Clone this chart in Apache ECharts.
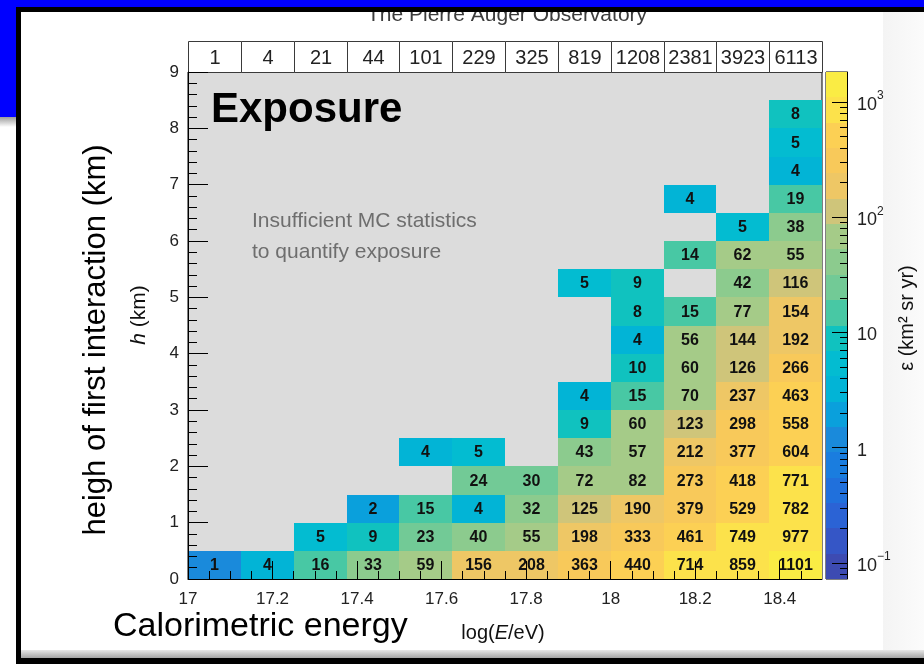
<!DOCTYPE html>
<html>
<head>
<meta charset="utf-8">
<script src="https://cdn.jsdelivr.net/npm/echarts@6/dist/echarts.min.js"></script>
<style>
  html, body { margin: 0; padding: 0; background: #ffffff; }
  #chart { width: 924px; height: 664px; }
</style>
</head>
<body>
<div id="chart"></div>
<script>
// Lower edges of the log10(E/eV) bins (width 0.125)
const energyBins = [17.0, 17.125, 17.25, 17.375, 17.5, 17.625, 17.75, 17.875, 18.0, 18.125, 18.25, 18.375];
const energyBinWidth = 0.125;
// Height rows are 0.5 km tall, starting at 0 km
const heightRowWidth = 0.5;

// Exposure (km^2 sr yr) per energy bin, listed from the lowest height row upwards (null = no entry)
const exposureBin00 = [1];
const exposureBin01 = [4];
const exposureBin02 = [16, 5];
const exposureBin03 = [33, 9, 2];
const exposureBin04 = [59, 23, 15, null, 4];
const exposureBin05 = [156, 40, 4, 24, 5];
const exposureBin06 = [208, 55, 32, 30];
const exposureBin07 = [363, 198, 125, 72, 43, 9, 4, null, null, null, 5];
const exposureBin08 = [440, 333, 190, 82, 57, 60, 15, 10, 4, 8, 9];
const exposureBin09 = [714, 461, 379, 273, 212, 123, 70, 60, 56, 15, null, 14, null, 4];
const exposureBin10 = [859, 749, 529, 418, 377, 298, 237, 126, 144, 77, 42, 62, 5];
const exposureBin11 = [1101, 977, 782, 771, 604, 558, 463, 266, 192, 154, 116, 55, 38, 19, 4, 5, 8];

// Totals shown in the header row above each energy bin
const binTotals = [1, 4, 21, 44, 101, 229, 325, 819, 1208, 2381, 3923, 6113];

// Tick values and labels
const xTickValues = [17, 17.2, 17.4, 17.6, 17.8, 18, 18.2, 18.4];
const xTickLabels = ['17', '17.2', '17.4', '17.6', '17.8', '18', '18.2', '18.4'];
const yTickValues = [0, 1, 2, 3, 4, 5, 6, 7, 8, 9];
const yTickLabels = ['0', '1', '2', '3', '4', '5', '6', '7', '8', '9'];
const zTickValues = [0.1, 1, 10, 100, 1000];
const zTickLabels = ['{b|10}{s|\u22121}', '{b|1}', '{b|10}', '{b|10}{s|2}', '{b|10}{s|3}'];

// Colour scale (logarithmic, 20 contour bands)
const zMin = 0.0726;
const zMax = 1820;
const bandColors = [
  '#3d4bb2', '#3556c6', '#2b63d5', '#2070dc', '#1a7ddf',
  '#1a8adb', '#0aa0dc', '#02b4d6', '#03bcd1', '#10c2bf',
  '#48c8a4', '#72ca96', '#8ccb8e', '#a5cb88', '#cfc57a',
  '#eec765', '#f8c95a', '#fcd054', '#fce24b', '#faec44'
];

const exposureColumns = [exposureBin00, exposureBin01, exposureBin02, exposureBin03, exposureBin04, exposureBin05,
  exposureBin06, exposureBin07, exposureBin08, exposureBin09, exposureBin10, exposureBin11];

function bandIndex(v) {
  const t = (Math.log10(v) - Math.log10(zMin)) / (Math.log10(zMax) - Math.log10(zMin));
  return Math.max(0, Math.min(bandColors.length - 1, Math.floor(t * bandColors.length)));
}

// Cells as [bin low edge, row low edge, exposure]
const cellData = [];
exposureColumns.forEach((col, i) => {
  col.forEach((v, j) => {
    if (v !== null) cellData.push([energyBins[i], j * heightRowWidth, v]);
  });
});

// Minor tick positions
const xMinorTicks = [];
for (let k = 1; k < 30; k++) { if (k % 4 !== 0) xMinorTicks.push(+(17 + k * 0.05).toFixed(3)); }
const yMinorTicks = [];
for (let k = 1; k < 45; k++) { if (k % 5 !== 0) yMinorTicks.push(+(k * 0.2).toFixed(3)); }
const zMinorTicks = [0.08, 0.09];
[0.1, 1, 10, 100].forEach(d => { for (let m = 2; m <= 9; m++) zMinorTicks.push(+(d * m).toPrecision(3)); });

const axisFont = '"Liberation Sans", Arial, sans-serif';
const cellFont = 'bold 16px "Liberation Sans Narrow", "Liberation Sans", Arial, sans-serif';

const chart = echarts.init(document.getElementById('chart'), null, { renderer: 'canvas' });

function renderCell(params, api) {
  const x0 = api.value(0), y0 = api.value(1), v = api.value(2);
  const p0 = api.coord([x0, y0]);
  const p1 = api.coord([x0 + energyBinWidth, y0 + heightRowWidth]);
  const left = Math.round(p0[0]), right = Math.round(p1[0]);
  const top = Math.round(p1[1]), bottom = Math.round(p0[1]);
  return {
    type: 'group',
    children: [
      { type: 'rect', shape: { x: left, y: top, width: right - left, height: bottom - top },
        style: { fill: bandColors[bandIndex(v)] } },
      { type: 'text', x: (left + right) / 2, y: (top + bottom) / 2 + 1,
        style: { text: String(v), font: cellFont, fill: '#111', align: 'center', verticalAlign: 'middle' } }
    ]
  };
}

function renderHeader(params, api) {
  const x0 = api.value(0), total = api.value(1);
  const pa = api.coord([x0, 9]);
  const pb = api.coord([x0 + energyBinWidth, 9]);
  const left = Math.round(pa[0]) + 0.5, right = Math.round(pb[0]) + 0.5;
  const bottom = Math.round(pa[1]) + 0.5, top = bottom - 31;
  return {
    type: 'group',
    children: [
      { type: 'rect', shape: { x: left, y: top, width: right - left, height: bottom - top },
        style: { fill: '#ffffff', stroke: '#3a3a3a', lineWidth: 1 } },
      { type: 'text', x: (left + right) / 2, y: (top + bottom) / 2 + 1,
        style: { text: String(total), font: '20px "Liberation Sans Narrow", "Liberation Sans", Arial, sans-serif',
          fill: '#222', align: 'center', verticalAlign: 'middle' } }
    ]
  };
}

function renderBand(params, api) {
  const k = api.value(1);
  const n = bandColors.length;
  const lo = zMin * Math.pow(zMax / zMin, k / n);
  const hi = zMin * Math.pow(zMax / zMin, (k + 1) / n);
  const p0 = api.coord([0, lo]);
  const p1 = api.coord([1, hi]);
  const top = Math.round(p1[1]), bottom = Math.round(p0[1]);
  return { type: 'rect', shape: { x: p0[0], y: top, width: p1[0] - p0[0], height: bottom - top },
    style: { fill: bandColors[k] } };
}

const blackLine = { color: '#000', width: 1 };

const option = {
  animation: false,
  backgroundColor: '#ffffff',
  textStyle: { fontFamily: axisFont },
  grid: [
    { left: 188, top: 72, right: 102, bottom: 85, show: true, backgroundColor: '#dcdcdc',
      borderColor: '#000', borderWidth: 1, containLabel: false, outerBoundsMode: 'none' },
    { left: 826, top: 72, right: 77, bottom: 85, show: true, backgroundColor: 'transparent',
      borderColor: '#000', borderWidth: 1, containLabel: false, outerBoundsMode: 'none' }
  ],
  xAxis: [
    { gridIndex: 0, type: 'value', min: 17, max: 18.5, position: 'bottom', z: 10,
      axisLine: { show: true, onZero: false, lineStyle: blackLine },
      axisTick: { show: true, inside: true, length: 18, customValues: xTickValues, lineStyle: blackLine },
      axisLabel: { show: true, customValues: xTickValues, margin: 12, fontSize: 17, color: '#222',
        fontFamily: axisFont, formatter: v => xTickLabels[xTickValues.findIndex(t => Math.abs(t - v) < 1e-6)] || '' },
      splitLine: { show: false } },
    { gridIndex: 0, type: 'value', min: 17, max: 18.5, position: 'bottom', z: 10,
      axisLine: { show: false, onZero: false },
      axisTick: { show: true, inside: true, length: 8, customValues: xMinorTicks, lineStyle: blackLine },
      axisLabel: { show: false }, splitLine: { show: false } },
    { gridIndex: 1, type: 'value', min: 0, max: 1, show: false, axisLine: { onZero: false } }
  ],
  yAxis: [
    { gridIndex: 0, type: 'value', min: 0, max: 9, position: 'left', z: 10,
      axisLine: { show: true, onZero: false, lineStyle: blackLine },
      axisTick: { show: true, inside: true, length: 20, customValues: yTickValues, lineStyle: blackLine },
      axisLabel: { show: true, customValues: yTickValues, margin: 9, fontSize: 17, color: '#222',
        fontFamily: axisFont, formatter: v => yTickLabels[yTickValues.indexOf(Math.round(v))] || '' },
      splitLine: { show: false } },
    { gridIndex: 0, type: 'value', min: 0, max: 9, position: 'left', z: 10,
      axisLine: { show: false, onZero: false },
      axisTick: { show: true, inside: true, length: 9, customValues: yMinorTicks, lineStyle: blackLine },
      axisLabel: { show: false }, splitLine: { show: false } },
    { gridIndex: 1, type: 'log', logBase: 10, min: zMin, max: zMax, position: 'right', z: 10,
      axisLine: { show: true, onZero: false, lineStyle: blackLine },
      axisTick: { show: true, inside: true, length: 15, customValues: zTickValues, lineStyle: blackLine },
      axisLabel: { show: true, customValues: zTickValues, margin: 10, color: '#222',
        formatter: v => {
          const i = zTickValues.findIndex(t => Math.abs(Math.log10(t) - Math.log10(v)) < 1e-6);
          return i >= 0 ? zTickLabels[i] : '';
        },
        rich: {
          b: { fontSize: 18, fontFamily: axisFont, color: '#222', lineHeight: 24, verticalAlign: 'bottom' },
          s: { fontSize: 12, fontFamily: axisFont, color: '#222', lineHeight: 24, verticalAlign: 'top' }
        } },
      splitLine: { show: false } },
    { gridIndex: 1, type: 'log', logBase: 10, min: zMin, max: zMax, position: 'right', z: 10,
      axisLine: { show: false, onZero: false },
      axisTick: { show: true, inside: true, length: 7, customValues: zMinorTicks, lineStyle: blackLine },
      axisLabel: { show: false }, splitLine: { show: false } }
  ],
  series: [
    { type: 'custom', name: 'exposure', xAxisIndex: 0, yAxisIndex: 0, renderItem: renderCell,
      data: cellData, encode: { x: 0, y: 1 }, z: 2 },
    { type: 'custom', name: 'totals', xAxisIndex: 0, yAxisIndex: 0, renderItem: renderHeader,
      data: binTotals.map((t, i) => [energyBins[i], t]), encode: { x: 0 }, z: 3 },
    { type: 'custom', name: 'colorbar', xAxisIndex: 2, yAxisIndex: 2, renderItem: renderBand,
      data: bandColors.map((c, k) => [0, k]), encode: { x: 0 }, z: 2 }
  ],
  graphic: [
    // faint shadow around the slide panel
    { type: 'rect', z: 1, shape: { x: 883, y: 12, width: 41, height: 646 },
      style: { fill: new echarts.graphic.LinearGradient(0, 0, 1, 0, [
        { offset: 0, color: '#f4f4f4' }, { offset: 1, color: '#fbfbfb' }]) } },
    { type: 'rect', z: 1, shape: { x: 21, y: 650, width: 903, height: 8 },
      style: { fill: new echarts.graphic.LinearGradient(0, 0, 0, 1, [
        { offset: 0, color: '#e6e6e6' }, { offset: 1, color: '#a4a4a4' }]) } },
    // slide title (partly hidden under the frame)
    { type: 'text', z: 5, x: 507, y: 15.5,
      style: { text: 'The Pierre Auger Observatory', font: '21px "Liberation Sans Narrow", "Liberation Sans", sans-serif',
        fill: '#3c3c3c', align: 'center', verticalAlign: 'middle' } },
    // frame
    { type: 'rect', z: 20, shape: { x: 0, y: 0, width: 924, height: 7 }, style: { fill: '#0000ff' } },
    { type: 'rect', z: 20, shape: { x: 0, y: 0, width: 17, height: 117 }, style: { fill: '#0000ff' } },
    { type: 'rect', z: 20, shape: { x: 0, y: 117, width: 17, height: 10 },
      style: { fill: new echarts.graphic.LinearGradient(0, 0, 0, 1, [
        { offset: 0, color: '#9c9c9c' }, { offset: 1, color: '#ffffff' }]) } },
    { type: 'rect', z: 21, shape: { x: 16, y: 7, width: 908, height: 5 }, style: { fill: '#000' } },
    { type: 'rect', z: 21, shape: { x: 16, y: 7, width: 5, height: 657 }, style: { fill: '#000' } },
    { type: 'rect', z: 21, shape: { x: 16, y: 658, width: 908, height: 6 }, style: { fill: '#000' } },
    // panel texts
    { type: 'text', z: 30, x: 211, y: 110,
      style: { text: 'Exposure', font: 'bold 42px "Liberation Sans", Arial, sans-serif', fill: '#000',
        verticalAlign: 'middle' } },
    { type: 'text', z: 30, x: 252, y: 221.5,
      style: { text: 'Insufficient MC statistics', font: '21px "Liberation Sans", Arial, sans-serif', fill: '#6e6e6e',
        verticalAlign: 'middle' } },
    { type: 'text', z: 30, x: 252, y: 252.5,
      style: { text: 'to quantify exposure', font: '21px "Liberation Sans", Arial, sans-serif', fill: '#6e6e6e',
        verticalAlign: 'middle' } },
    { type: 'text', z: 30, x: 96, y: 340, rotation: Math.PI / 2,
      style: { text: 'heigh of first interaction (km)', font: '31px "Liberation Sans", Arial, sans-serif', fill: '#000',
        align: 'center', verticalAlign: 'middle' } },
    { type: 'text', z: 30, x: 139, y: 315, rotation: Math.PI / 2,
      style: { text: '{i|h} (km)', align: 'center', verticalAlign: 'middle',
        rich: { i: { font: 'italic 21px "Liberation Sans", Arial, sans-serif', fill: '#111' } },
        font: '21px "Liberation Sans", Arial, sans-serif', fill: '#111' } },
    { type: 'text', z: 30, x: 113, y: 626.5,
      style: { text: 'Calorimetric energy', font: '34px "Liberation Sans", Arial, sans-serif', fill: '#000',
        verticalAlign: 'middle' } },
    { type: 'text', z: 30, x: 503, y: 633,
      style: { text: 'log({i|E}/eV)', align: 'center', verticalAlign: 'middle',
        font: '20px "Liberation Sans", Arial, sans-serif', fill: '#111',
        rich: { i: { font: 'italic 20px "Liberation Sans", Arial, sans-serif', fill: '#111' } } } },
    { type: 'text', z: 30, x: 907, y: 318, rotation: Math.PI / 2,
      style: { text: '\u03b5 (km\u00b2 sr yr)', font: '20px "Liberation Sans", Arial, sans-serif', fill: '#111',
        align: 'center', verticalAlign: 'middle' } }
  ]
};

chart.setOption(option);
</script>
</body>
</html>
